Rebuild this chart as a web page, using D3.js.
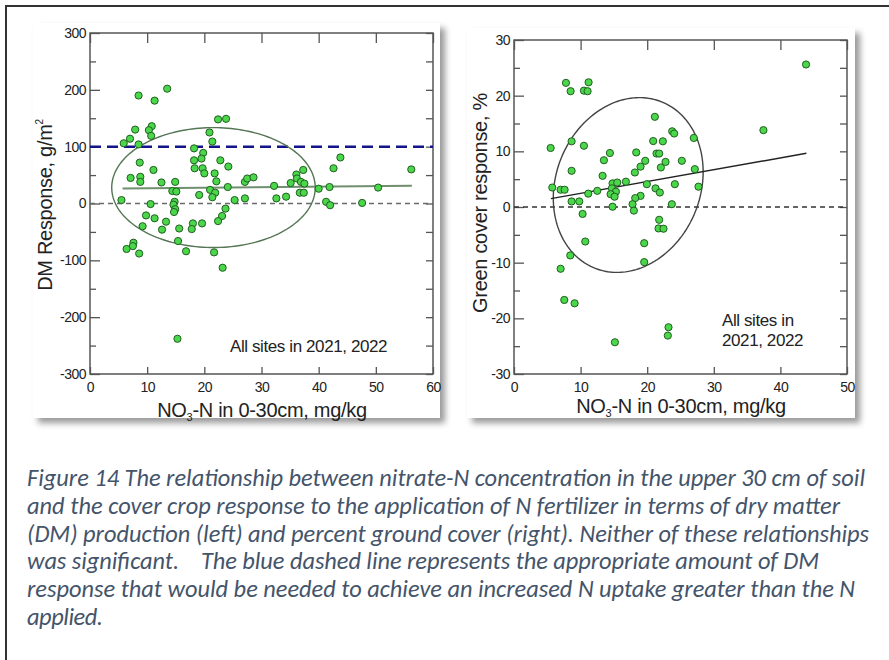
<!DOCTYPE html>
<html>
<head>
<meta charset="utf-8">
<script src="https://cdn.jsdelivr.net/npm/d3@7"></script>
<style>
  body { margin: 0; background: #fff; }
</style>
</head>
<body>
<div id="d3-chart"></div>
<script>
// left panel: DM response vs soil nitrate
const dmX = [13.5, 8.5, 11.3, 22.4, 23.8, 10.8, 10.3, 10.7, 7.9, 7.0, 5.9, 8.5, 20.9, 21.4, 18.2, 19.8, 19.5, 18.2, 22.8, 24.2,
  19.7, 18.3, 20.0, 21.8, 8.7, 11.1, 7.1, 8.8, 8.8, 12.5, 14.9, 22.1, 14.4, 15.1, 21.0, 21.9, 21.4, 24.1, 19.1, 5.5,
  10.6, 14.8, 14.6, 14.9, 14.7, 25.3, 23.7, 9.8, 11.3, 13.3, 12.6, 9.2, 15.6, 18.0, 17.8, 19.6, 23.1, 22.4, 15.4, 16.8,
  21.7, 7.6, 7.5, 6.4, 8.6, 23.2, 15.3, 27.1, 27.5, 28.6, 27.1, 32.2, 32.6, 34.3, 35.1, 36.1, 36.2, 37.3, 36.9, 37.5,
  36.7, 37.4, 40.0, 43.8, 42.6, 41.9, 41.3, 42.0, 47.6, 50.4, 56.2];
const dmY = [202, 190, 181, 148, 149, 136, 129, 119, 130, 114, 106, 104, 125, 109, 97, 89, 79, 76, 76, 65,
  62, 62, 53, 53, 72, 59, 45, 47, 38, 37, 38, 39, 22, 21, 24, 19, 11, 29, 15, 6,
  -1, 3, -2, -10, -15, 6, -9, -21, -26, -32, -46, -40, -44, -35, -45, -35, -22, -31, -66, -84,
  -86, -69, -75, -80, -88, -113, -238, 38, 44, 46, 9, 31, 9, 12, 36, 51, 44, 59, 38, 35,
  19, 19, 26, 81, 62, 29, 3, -3, 1, 28, 60];
const dmFit = [[5.7, 26.5], [56.3, 31.2]];
const dmEllipse = [21.6, 28, 17.8, 105.5, 0];   // cx, cy, rx, ry, correlation
const dmTarget = 100;

// right panel: green cover response vs soil nitrate
const gcX = [43.85, 37.45, 7.8, 8.5, 10.5, 11.05, 11.2, 5.5, 5.75, 7.0, 7.6, 8.65, 8.65, 8.65, 9.8, 10.5, 10.3, 10.7, 8.45, 7.0,
  7.55, 9.1, 11.15, 12.5, 13.3, 13.5, 14.4, 14.8, 15.5, 14.7, 15.3, 14.5, 15.1, 14.8, 16.8, 15.15, 18.15, 18.35, 19.0, 19.7,
  19.95, 19.0, 18.2, 17.8, 18.0, 19.55, 19.55, 20.9, 21.15, 21.4, 21.8, 22.35, 22.05, 22.75, 21.25, 21.9, 21.8, 21.7, 22.45, 23.7,
  23.75, 24.05, 24.15, 25.2, 27.0, 27.15, 27.7, 23.2, 23.1];
const gcY = [25.6, 13.8, 22.3, 20.8, 20.9, 20.8, 22.4, 10.6, 3.5, 3.1, 3.1, 11.8, 6.5, 1.0, 1.0, 11.0, -1.25, -6.2, -8.7, -11.1,
  -16.7, -17.3, 2.4, 2.9, 5.6, 8.4, 9.7, 4.25, 4.4, 3.35, 2.75, 2.3, 1.85, 0.05, 4.55, -24.3, 6.2, 9.8, 7.25, 8.3,
  4.1, 2.0, 1.6, 0.5, -0.65, -6.5, -9.9, 11.85, 16.2, 9.6, 9.6, 11.8, 7.1, 8.1, 3.35, 2.6, -2.3, -3.85, -3.9, 0.5,
  13.6, 13.2, 4.1, 8.3, 12.4, 6.8, 3.65, -21.6, -23.1];
const gcFit = [[5.55, 1.5], [43.9, 9.65]];
const gcEllipse = [17.15, 3.95, 11.25, 15.7, 0.15];

// ticks
const dmXTicks = [0, 10, 20, 30, 40, 50, 60];
const dmYTicks = [-300, -200, -100, 0, 100, 200, 300];
const dmYMinor = [-250, -150, -50, 50, 150, 250];
const gcXTicks = [0, 10, 20, 30, 40, 50];
const gcYTicks = [-30, -20, -10, 0, 10, 20, 30];
const gcYMinor = [-25, -15, -5, 5, 15, 25];

const caption = [
  "Figure 14 The relationship between nitrate-N concentration in the upper 30 cm of soil",
  "and the cover crop response to the application of N fertilizer in terms of dry matter",
  "(DM) production (left) and percent ground cover (right). Neither of these relationships",
  "was significant.    The blue dashed line represents the appropriate amount of DM",
  "response that would be needed to achieve an increased N uptake greater than the N",
  "applied."
];
const captionEnds = [865, 840, 869, 819, 855, 103];

const width = 889;
const height = 660;
const font = "'Liberation Sans', Arial, sans-serif";

const svg = d3.select("#d3-chart")
  .append("svg")
  .attr("width", width)
  .attr("height", height);

const defs = svg.append("defs");
defs.append("filter")
  .attr("id", "shadow")
  .attr("x", "-5%").attr("y", "-5%")
  .attr("width", "115%").attr("height", "115%")
  .append("feDropShadow")
  .attr("dx", 5).attr("dy", 5)
  .attr("stdDeviation", 3)
  .attr("flood-color", "#000")
  .attr("flood-opacity", 0.4);

// page border
svg.append("rect")
  .attr("x", 6).attr("y", 6)
  .attr("width", 960).attr("height", 720)
  .attr("fill", "none")
  .attr("stroke", "#333")
  .attr("stroke-width", 2);

function drawPanel(p) {
  const g = svg.append("g");

  g.append("rect")
    .attr("x", p.frame[0]).attr("y", p.frame[1])
    .attr("width", p.frame[2]).attr("height", p.frame[3])
    .attr("fill", "#fff")
    .attr("filter", "url(#shadow)");

  const x = d3.scaleLinear().domain(p.xDomain).range(p.xRange);
  const y = d3.scaleLinear().domain(p.yDomain).range(p.yRange);
  const plain = d => String(d);   // hyphen minus, like the original

  const styleAxis = function (sel) {
    sel.select(".domain").remove();
    sel.selectAll("line").attr("stroke", "#555").attr("stroke-width", 1.3);
    sel.selectAll("text")
      .attr("fill", "#222")
      .style("font-family", font)
      .style("font-size", "14px")
      .style("letter-spacing", "-0.5px");
  };

  // axes with inward ticks
  g.append("g")
    .attr("transform", "translate(" + p.xRange[0] + ",0)")
    .call(d3.axisLeft(y).tickValues(p.yTicks).tickFormat(plain).tickSizeInner(-10).tickSizeOuter(0).tickPadding(4))
    .call(styleAxis);
  g.append("g")
    .attr("transform", "translate(" + p.xRange[0] + ",0)")
    .call(d3.axisLeft(y).tickValues(p.yMinor).tickFormat("").tickSizeInner(-6).tickSizeOuter(0))
    .call(styleAxis);
  g.append("g")
    .attr("transform", "translate(" + p.xRange[1] + ",0)")
    .call(d3.axisRight(y).tickValues(p.yTicks.concat(p.yMinor)).tickFormat("").tickSizeInner(-7).tickSizeOuter(0))
    .call(styleAxis);
  g.append("g")
    .attr("transform", "translate(0," + p.yRange[0] + ")")
    .call(d3.axisBottom(x).tickValues(p.xTicks).tickFormat(plain).tickSizeInner(-7).tickSizeOuter(0).tickPadding(8))
    .call(styleAxis);
  g.append("g")
    .attr("transform", "translate(0," + p.yRange[1] + ")")
    .call(d3.axisTop(x).tickValues(p.xTicks).tickFormat("").tickSizeInner(-10).tickSizeOuter(0))
    .call(styleAxis);

  // plot frame
  g.append("rect")
    .attr("x", p.xRange[0]).attr("y", p.yRange[1])
    .attr("width", p.xRange[1] - p.xRange[0])
    .attr("height", p.yRange[0] - p.yRange[1])
    .attr("fill", "none")
    .attr("stroke", "#555")
    .attr("stroke-width", 1.5);

  // zero line
  g.append("line")
    .attr("x1", x(p.xDomain[0])).attr("x2", x(p.xDomain[1]))
    .attr("y1", y(0)).attr("y2", y(0))
    .attr("stroke", p.zeroColor)
    .attr("stroke-width", 1.3)
    .attr("stroke-dasharray", "5,4");

  if (p.target !== undefined) {
    g.append("line")
      .attr("x1", x(p.xDomain[0])).attr("x2", x(p.xDomain[1]))
      .attr("y1", y(p.target)).attr("y2", y(p.target))
      .attr("stroke", "#14148a")
      .attr("stroke-width", 2.5)
      .attr("stroke-dasharray", "11,6");
  }

  // confidence ellipse
  const e = p.ellipse;
  const ellipsePts = d3.range(0, 2 * Math.PI + 0.01, Math.PI / 90).map(function (t) {
    return [e[0] + e[2] * Math.cos(t),
      e[1] + e[3] * (e[4] * Math.cos(t) + Math.sqrt(1 - e[4] * e[4]) * Math.sin(t))];
  });
  g.append("path")
    .datum(ellipsePts)
    .attr("d", d3.line().x(d => x(d[0])).y(d => y(d[1])))
    .attr("fill", "none")
    .attr("stroke", p.ellipseColor)
    .attr("stroke-width", 1.4);

  // fitted line
  g.append("path")
    .datum(p.fit)
    .attr("d", d3.line().x(d => x(d[0])).y(d => y(d[1])))
    .attr("stroke", p.fitColor)
    .attr("stroke-width", p.fitWidth);

  // points
  g.selectAll("circle.pt")
    .data(p.xs.map((v, i) => [v, p.ys[i]]))
    .enter()
    .append("circle")
    .attr("class", "pt")
    .attr("cx", d => x(d[0]))
    .attr("cy", d => y(d[1]))
    .attr("r", 3.6)
    .attr("fill", "#4cd64c")
    .attr("stroke", "#1f5f1f")
    .attr("stroke-width", 1);

  // annotation
  const note = g.append("text")
    .style("font-family", font)
    .style("font-size", "17px")
    .style("letter-spacing", "-0.4px")
    .attr("fill", "#222");
  p.note.forEach(function (line, i) {
    note.append("tspan")
      .attr("x", p.notePos[0])
      .attr("y", p.notePos[1] + i * 20)
      .text(line);
  });

  // x title
  const xt = g.append("text")
    .attr("x", p.xTitlePos[0])
    .attr("y", p.xTitlePos[1])
    .attr("text-anchor", "middle")
    .style("font-family", font)
    .style("font-size", "20px")
    .style("letter-spacing", "-0.3px")
    .attr("fill", "#222");
  xt.append("tspan").text("NO");
  xt.append("tspan").attr("dy", 4).style("font-size", "11px").text("3");
  xt.append("tspan").attr("dy", -4).text("-N in 0-30cm, mg/kg");

  // y title
  const yt = g.append("text")
    .attr("transform", "translate(" + p.yTitlePos[0] + "," + p.yTitlePos[1] + ") rotate(-90)")
    .attr("text-anchor", "middle")
    .style("font-family", font)
    .style("font-size", "20px")
    .style("letter-spacing", "-0.3px")
    .attr("fill", "#222");
  yt.append("tspan").text(p.yTitle[0]);
  if (p.yTitle[1]) {
    yt.append("tspan").attr("dy", -9).style("font-size", "10px").text(p.yTitle[1]);
  }
}

drawPanel({
  frame: [33, 23, 407, 395],
  xDomain: [0, 60], xRange: [90, 433],
  yDomain: [-300, 300], yRange: [374, 33],
  xTicks: dmXTicks, yTicks: dmYTicks, yMinor: dmYMinor,
  xs: dmX, ys: dmY,
  fit: dmFit, fitColor: "#6f8f6f", fitWidth: 2,
  ellipse: dmEllipse, ellipseColor: "#547654",
  zeroColor: "#6a6a6a",
  target: dmTarget,
  note: ["All sites in 2021, 2022"], notePos: [230, 352],
  xTitlePos: [262, 417],
  yTitle: ["DM Response, g/m", "2"], yTitlePos: [52, 205]
});

drawPanel({
  frame: [467, 28, 388, 390],
  xDomain: [0, 50], xRange: [514, 847],
  yDomain: [-30, 30], yRange: [374, 40],
  xTicks: gcXTicks, yTicks: gcYTicks, yMinor: gcYMinor,
  xs: gcX, ys: gcY,
  fit: gcFit, fitColor: "#222", fitWidth: 1.4,
  ellipse: gcEllipse, ellipseColor: "#444",
  zeroColor: "#333",
  note: ["All sites in", "2021, 2022"], notePos: [722, 326],
  xTitlePos: [681, 413],
  yTitle: ["Green cover response, %"], yTitlePos: [487, 203]
});

// caption: size the font so the first line fills its measured width
const captionText = svg.append("g")
  .selectAll("text")
  .data(caption)
  .enter()
  .append("text")
  .attr("x", 27)
  .attr("y", (d, i) => 486 + i * 27.8)
  .style("white-space", "pre")
  .style("font-family", "Carlito, 'Open Sans', sans-serif")
  .style("font-style", "italic")
  .style("font-size", "20px")
  .attr("fill", "#44546a")
  .text(d => d);

const firstLen = captionText.node().getComputedTextLength();
const capSize = 20 * (captionEnds[0] - 27) / firstLen;
captionText
  .style("font-size", capSize + "px")
  .attr("textLength", (d, i) => captionEnds[i] - 27)
  .attr("lengthAdjust", "spacing");
</script>
</body>
</html>
